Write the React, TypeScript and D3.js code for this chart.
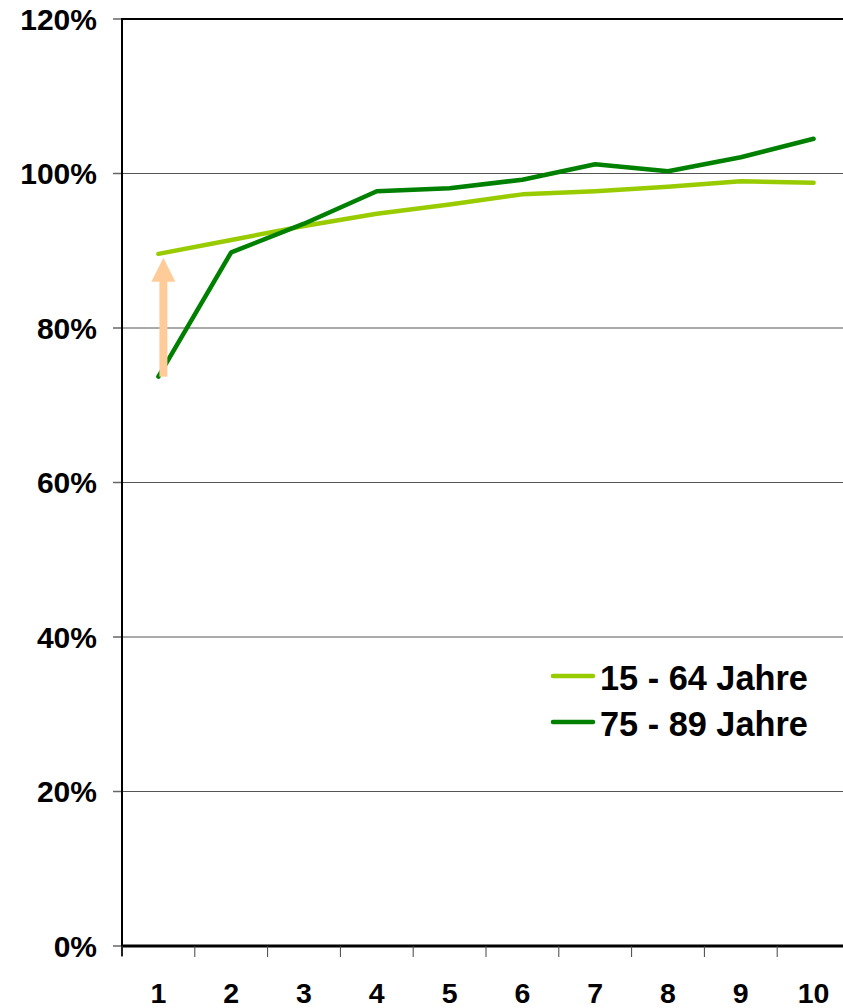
import React from "react";
import * as d3 from "d3";

const categories = ["1", "2", "3", "4", "5", "6", "7", "8", "9", "10"];
const series1Name = "15 - 64 Jahre";
const series1 = [89.6, 91.4, 93.2, 94.8, 96.0, 97.3, 97.7, 98.3, 99.0, 98.8];
const series2Name = "75 - 89 Jahre";
const series2 = [73.7, 89.8, 93.5, 97.7, 98.1, 99.2, 101.2, 100.3, 102.1, 104.5];
const yTicks = [0, 20, 40, 60, 80, 100, 120];
const arrowFrom = 73.7;
const arrowTo = 89.6;

const W = 843;
const H = 1008;
const FONT = "'Liberation Sans', Arial, Helvetica, sans-serif";

export default function App() {
  const left = 122;
  const top = 19;
  const bottom = 946;
  const bandW = 72.8;
  const x = d3
    .scaleBand<string>()
    .domain(categories)
    .range([left, left + bandW * categories.length])
    .padding(0);
  const y = d3.scaleLinear().domain([0, 120]).range([bottom, top]);
  const cx = (c: string) => (x(c) as number) + x.bandwidth() / 2;

  const line = d3
    .line<number>()
    .x((_, i) => cx(categories[i]))
    .y((d) => y(d));

  const right = left + bandW * categories.length;
  const ax = cx(categories[0]) + 5;
  const yTip = y(arrowTo) + 4;
  const yBase = yTip + 24;
  const yEnd = y(arrowFrom);

  return (
    <svg
      width={W}
      height={H}
      style={{ position: "absolute", left: 0, top: 0, background: "#fff" }}
      fontFamily={FONT}
    >
      {yTicks
        .filter((t) => t > 0 && t < 120)
        .map((t) => (
          <line key={t} x1={left} x2={right} y1={y(t)} y2={y(t)} stroke="#555" strokeWidth={1} />
        ))}
      <line x1={left} x2={right} y1={y(120)} y2={y(120)} stroke="#000" strokeWidth={2} />
      {yTicks.map((t) => (
        <g key={t}>
          <line x1={left - 9} x2={left} y1={y(t)} y2={y(t)} stroke="#666" strokeWidth={1.5} />
          <text
            x={97}
            y={y(t)}
            dy="0.36em"
            textAnchor="end"
            fontSize={30}
            fontWeight="bold"
            fill="#000"
          >
            {t}%
          </text>
        </g>
      ))}
      <line x1={left} x2={left} y1={y(120) - 1} y2={bottom + 10} stroke="#000" strokeWidth={2} />
      <line x1={left} x2={right} y1={bottom} y2={bottom} stroke="#000" strokeWidth={3} />
      {categories.map((c) => (
        <g key={c}>
          <line
            x1={x(c) as number}
            x2={x(c) as number}
            y1={bottom}
            y2={bottom + 11}
            stroke="#444"
            strokeWidth={1}
          />
          <text
            x={cx(c)}
            y={1003}
            textAnchor="middle"
            fontSize={28.5}
            fontWeight="bold"
            fill="#000"
          >
            {c}
          </text>
        </g>
      ))}
      <path d={line(series1) || ""} fill="none" stroke="#99CC00" strokeWidth={4.5} strokeLinecap="round" strokeLinejoin="round" />
      <path d={line(series2) || ""} fill="none" stroke="#008000" strokeWidth={4.5} strokeLinecap="round" strokeLinejoin="round" />
      <rect x={ax - 4} y={yBase - 1} width={8} height={yEnd - yBase + 1} fill="#FFCC99" />
      <path d={`M${ax},${yTip} L${ax + 12},${yBase} L${ax - 12},${yBase} Z`} fill="#FFCC99" />
      {[
        { name: series1Name, color: "#99CC00", ly: 676 },
        { name: series2Name, color: "#008000", ly: 722 },
      ].map((l) => (
        <g key={l.name}>
          <line x1={553} x2={593} y1={l.ly} y2={l.ly} stroke={l.color} strokeWidth={4.5} strokeLinecap="round" />
          <text x={600} y={l.ly + 14} fontSize={34.3} fontWeight="bold" fill="#000">
            {l.name}
          </text>
        </g>
      ))}
    </svg>
  );
}
